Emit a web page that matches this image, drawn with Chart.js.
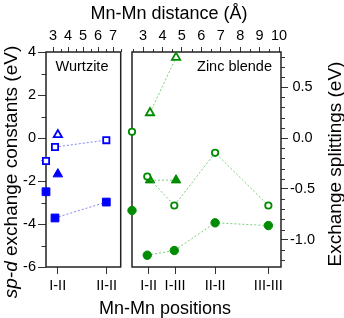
<!DOCTYPE html>
<html>
<head>
<meta charset="utf-8">
<script src="https://cdn.jsdelivr.net/npm/chart.js@4"></script>
<style>
html, body { margin: 0; padding: 0; background: #fff; }
#wrap { position: relative; width: 344px; height: 318px; }
#wrap canvas { position: absolute; left: 0; top: 0; }
</style>
</head>
<body>
<div id="wrap">
  <canvas id="wz" width="344" height="318"></canvas>
  <canvas id="zb" width="344" height="318"></canvas>
</div>
<script>
// ---- Wurtzite panel (left axis, eV) ----
const wzPosLabels = ['I-II', 'II-II'];
const wzPosDist = [3.31, 6.57];
const wzDistTicks = [3, 4, 5, 6, 7];
const wzDistMinor = [3.5, 4.5, 5.5, 6.5, 7.5];

const wzSqX = [3.13, 6.55];
const wzOpenSqY = [-0.42, -0.1];
const wzFullSqY = [-3.72, -2.98];
const wzEdgeX = [2.53];
const wzOpenSqEdgeY = [-1.07];
const wzFullSqEdgeY = [-2.5];
const wzTriX = [3.32];
const wzOpenTriY = [0.15];
const wzFullTriY = [-1.68];

// ---- Zinc blende panel ----
const zbPosLabels = ['I-II', 'I-III', 'II-II', 'III-III'];
const zbPosDist = [3.29, 4.65, 6.71, 9.45];
const zbDistTicks = [3, 4, 5, 6, 7, 8, 9, 10];
const zbDistMinor = [2.5, 3.5, 4.5, 5.5, 6.5, 7.5, 8.5, 9.5];

const zbCircX = [3.22, 4.61, 6.71, 9.45];
const zbOpenCircY = [-0.378, -0.663, -0.145, -0.663];   // right axis
const zbFullCircY = [-1.151, -1.105, -0.833, -0.86];    // right axis
const zbEdgeX = [2.434];
const zbOpenCircEdgeY = [0.061];
const zbFullCircEdgeY = [-0.712];
const zbTriX = [3.36, 4.70];
const zbOpenTriY = [1.17, 3.75];                       // left axis
const zbFullTriY = [-1.96, -1.96];

// axes
const constTicks = [-6, -4, -2, 0, 2, 4];
const constMinor = [-5, -3, -1, 1, 3];
const splitTicks = [-1.0, -0.5, 0.0, 0.5];
const splitMinor = [-1.2, -1.1, -0.9, -0.8, -0.7, -0.6, -0.4, -0.3, -0.2, -0.1, 0.1, 0.2, 0.3, 0.4, 0.6, 0.7, 0.8];

const FONT = '"Liberation Sans", Arial, sans-serif';
const BLUE = '#0000ff';
const BLUE_LINE = 'rgba(110,110,255,0.85)';
const GREEN = '#008c00';
const GREEN_LINE = 'rgba(110,200,110,0.9)';
const AX = '#333';

function pts(xs, ys) {
  return xs.map((x, i) => ({ x: x, y: ys[i] }));
}

function series(xs, ys, opt) {
  return Object.assign({
    data: pts(xs, ys),
    showLine: xs.length > 1,
    borderWidth: 1,
    borderDash: [2, 2],
    clip: false,
    pointHoverRadius: 0
  }, opt);
}

function openMark(color, line, style, r) {
  return { pointStyle: style, pointRadius: r, pointBorderWidth: 1.8, pointBorderColor: color,
           pointBackgroundColor: '#fff', borderColor: line };
}
function fullMark(color, line, style, r) {
  return { pointStyle: style, pointRadius: r, pointBorderWidth: 1, pointBorderColor: color,
           pointBackgroundColor: color, borderColor: line };
}

function fixedTicks(list) {
  return function (scale) { scale.ticks = list.map(v => ({ value: v })); };
}

function tickFont() {
  return { family: FONT, size: 14.5 };
}

function distAxis(min, max, list) {
  return {
    type: 'linear', position: 'top', min: min, max: max,
    afterBuildTicks: fixedTicks(list),
    afterFit: s => { s.height = 52; },
    ticks: { font: tickFont(), color: '#000', padding: 2, autoSkip: false, maxRotation: 0,
             callback: v => String(v) },
    grid: { drawOnChartArea: false, tickLength: 5, color: AX },
    border: { display: false }
  };
}

function posAxis(min, max, list, labels) {
  return {
    type: 'linear', position: 'bottom', min: min, max: max,
    afterBuildTicks: fixedTicks(list),
    afterFit: s => { s.height = 51; },
    ticks: { font: tickFont(), color: '#000', padding: 3, autoSkip: false, maxRotation: 0,
             callback: (v, i) => labels[i] },
    grid: { drawOnChartArea: false, tickLength: 7, color: AX },
    border: { display: false }
  };
}

// minor ticks, frame and the text that Chart.js can't place
const decor = {
  id: 'decor',
  beforeDatasetsDraw(chart, args, opts) {
    const ctx = chart.ctx, a = chart.chartArea;
    ctx.save();
    ctx.strokeStyle = AX;
    ctx.lineWidth = 1;
    (opts.minor || []).forEach(m => {
      const s = chart.scales[m.axis];
      m.values.forEach(v => {
        const p = Math.round(s.getPixelForValue(v)) + 0.5;
        ctx.beginPath();
        if (s.position === 'top') { ctx.moveTo(p, a.top); ctx.lineTo(p, a.top - m.len); }
        else if (s.position === 'left') { ctx.moveTo(a.left, p); ctx.lineTo(a.left - m.len, p); }
        else { ctx.moveTo(a.right, p); ctx.lineTo(a.right + m.len, p); }
        ctx.stroke();
      });
    });
    ctx.lineWidth = 1.5;
    ctx.strokeStyle = '#222';
    ctx.strokeRect(a.left, a.top, a.right - a.left, a.bottom - a.top);
    ctx.restore();
  },
  afterDraw(chart, args, opts) {
    const ctx = chart.ctx;
    ctx.save();
    ctx.fillStyle = '#000';
    ctx.textBaseline = 'alphabetic';
    (opts.texts || []).forEach(t => {
      ctx.save();
      ctx.translate(t.x, t.y);
      if (t.rot) ctx.rotate(t.rot);
      const parts = t.parts;
      let w = 0;
      parts.forEach(p => { ctx.font = p.font; p.w = ctx.measureText(p.text).width; w += p.w; });
      let x0 = t.align === 'right' ? -w : (t.align === 'left' ? 0 : -w / 2);
      parts.forEach(p => { ctx.font = p.font; ctx.textAlign = 'left'; ctx.fillText(p.text, x0, 0); x0 += p.w; });
      ctx.restore();
    });
    ctx.restore();
  }
};

const TITLE = '18px ' + FONT;
const VTITLE = '19px ' + FONT;
const LABEL = '14.5px ' + FONT;

const common = {
  responsive: false,
  animation: false,
  events: [],
  plugins: { legend: { display: false }, tooltip: { enabled: false } }
};

new Chart(document.getElementById('wz'), {
  type: 'line',
  data: {
    datasets: [
      series(wzSqX, wzOpenSqY, openMark(BLUE, BLUE_LINE, 'rect', 4.4)),
      series(wzSqX, wzFullSqY, fullMark(BLUE, BLUE_LINE, 'rect', 5.5)),
      series(wzEdgeX, wzOpenSqEdgeY, openMark(BLUE, BLUE_LINE, 'rect', 4.4)),
      series(wzEdgeX, wzFullSqEdgeY, fullMark(BLUE, BLUE_LINE, 'rect', 5.5)),
      series(wzTriX, wzOpenTriY, openMark(BLUE, BLUE_LINE, 'triangle', 4.8)),
      series(wzTriX, wzFullTriY, fullMark(BLUE, BLUE_LINE, 'triangle', 5.5))
    ]
  },
  options: Object.assign({}, common, {
    layout: { padding: { left: 0, right: 223.3, top: 0, bottom: 0 } },
    scales: {
      x: posAxis(2.53, 7.51, wzPosDist, wzPosLabels),
      xTop: distAxis(2.53, 7.51, wzDistTicks),
      y: {
        type: 'linear', position: 'left', min: -6, max: 4,
        afterBuildTicks: fixedTicks(constTicks),
        afterFit: s => { s.width = 46; },
        ticks: { font: tickFont(), color: '#000', padding: 2, callback: v => String(v) },
        grid: { drawOnChartArea: false, tickLength: 8, color: AX },
        border: { display: false }
      }
    },
    plugins: Object.assign({}, common.plugins, {
      decor: {
        minor: [
          { axis: 'xTop', values: wzDistMinor, len: 3 },
          { axis: 'y', values: constMinor, len: 4.5 }
        ],
        texts: [
          { x: 82, y: 71, parts: [{ text: 'Wurtzite', font: LABEL }] },
          { x: 16.5, y: 172, rot: -Math.PI / 2, parts: [
            { text: 'sp-d', font: 'italic ' + VTITLE },
            { text: ' exchange constants (eV)', font: VTITLE }
          ] }
        ]
      }
    })
  }),
  plugins: [decor]
});

new Chart(document.getElementById('zb'), {
  type: 'line',
  data: {
    datasets: [
      series(zbCircX, zbOpenCircY, Object.assign(openMark(GREEN, GREEN_LINE, 'circle', 3.2), { yAxisID: 'yR' })),
      series(zbCircX, zbFullCircY, Object.assign(fullMark(GREEN, GREEN_LINE, 'circle', 4.2), { yAxisID: 'yR' })),
      series(zbEdgeX, zbOpenCircEdgeY, Object.assign(openMark(GREEN, GREEN_LINE, 'circle', 3.2), { yAxisID: 'yR' })),
      series(zbEdgeX, zbFullCircEdgeY, Object.assign(fullMark(GREEN, GREEN_LINE, 'circle', 4.2), { yAxisID: 'yR' })),
      series(zbTriX, zbOpenTriY, Object.assign(openMark(GREEN, GREEN_LINE, 'triangle', 4.8), { yAxisID: 'yL' })),
      series(zbTriX, zbFullTriY, Object.assign(fullMark(GREEN, GREEN_LINE, 'triangle', 5.5), { yAxisID: 'yL' }))
    ]
  },
  options: Object.assign({}, common, {
    layout: { padding: { left: 132, right: 0, top: 0, bottom: 0 } },
    scales: {
      x: posAxis(2.434, 10.10, zbPosDist, zbPosLabels),
      xTop: distAxis(2.434, 10.10, zbDistTicks),
      yL: { type: 'linear', position: 'left', display: false, min: -6, max: 4 },
      yR: {
        type: 'linear', position: 'right', min: -1.267, max: 0.845,
        afterBuildTicks: fixedTicks(splitTicks),
        afterFit: s => { s.width = 63; },
        ticks: { font: tickFont(), color: '#000', padding: 2, crossAlign: 'center',
                 callback: v => v.toFixed(1) },
        grid: { drawOnChartArea: false, tickLength: 7, color: AX },
        border: { display: false }
      }
    },
    plugins: Object.assign({}, common.plugins, {
      decor: {
        minor: [
          { axis: 'xTop', values: zbDistMinor, len: 3 },
          { axis: 'yR', values: splitMinor, len: 4 }
        ],
        texts: [
          { x: 272, y: 71, align: 'right', parts: [{ text: 'Zinc blende', font: LABEL }] },
          { x: 341, y: 164, rot: -Math.PI / 2, parts: [{ text: 'Exchange splittings (eV)', font: VTITLE }] },
          { x: 169, y: 19, parts: [{ text: 'Mn-Mn distance (Å)', font: TITLE }] },
          { x: 165, y: 314, parts: [{ text: 'Mn-Mn positions', font: TITLE }] }
        ]
      }
    })
  }),
  plugins: [decor]
});
</script>
</body>
</html>
